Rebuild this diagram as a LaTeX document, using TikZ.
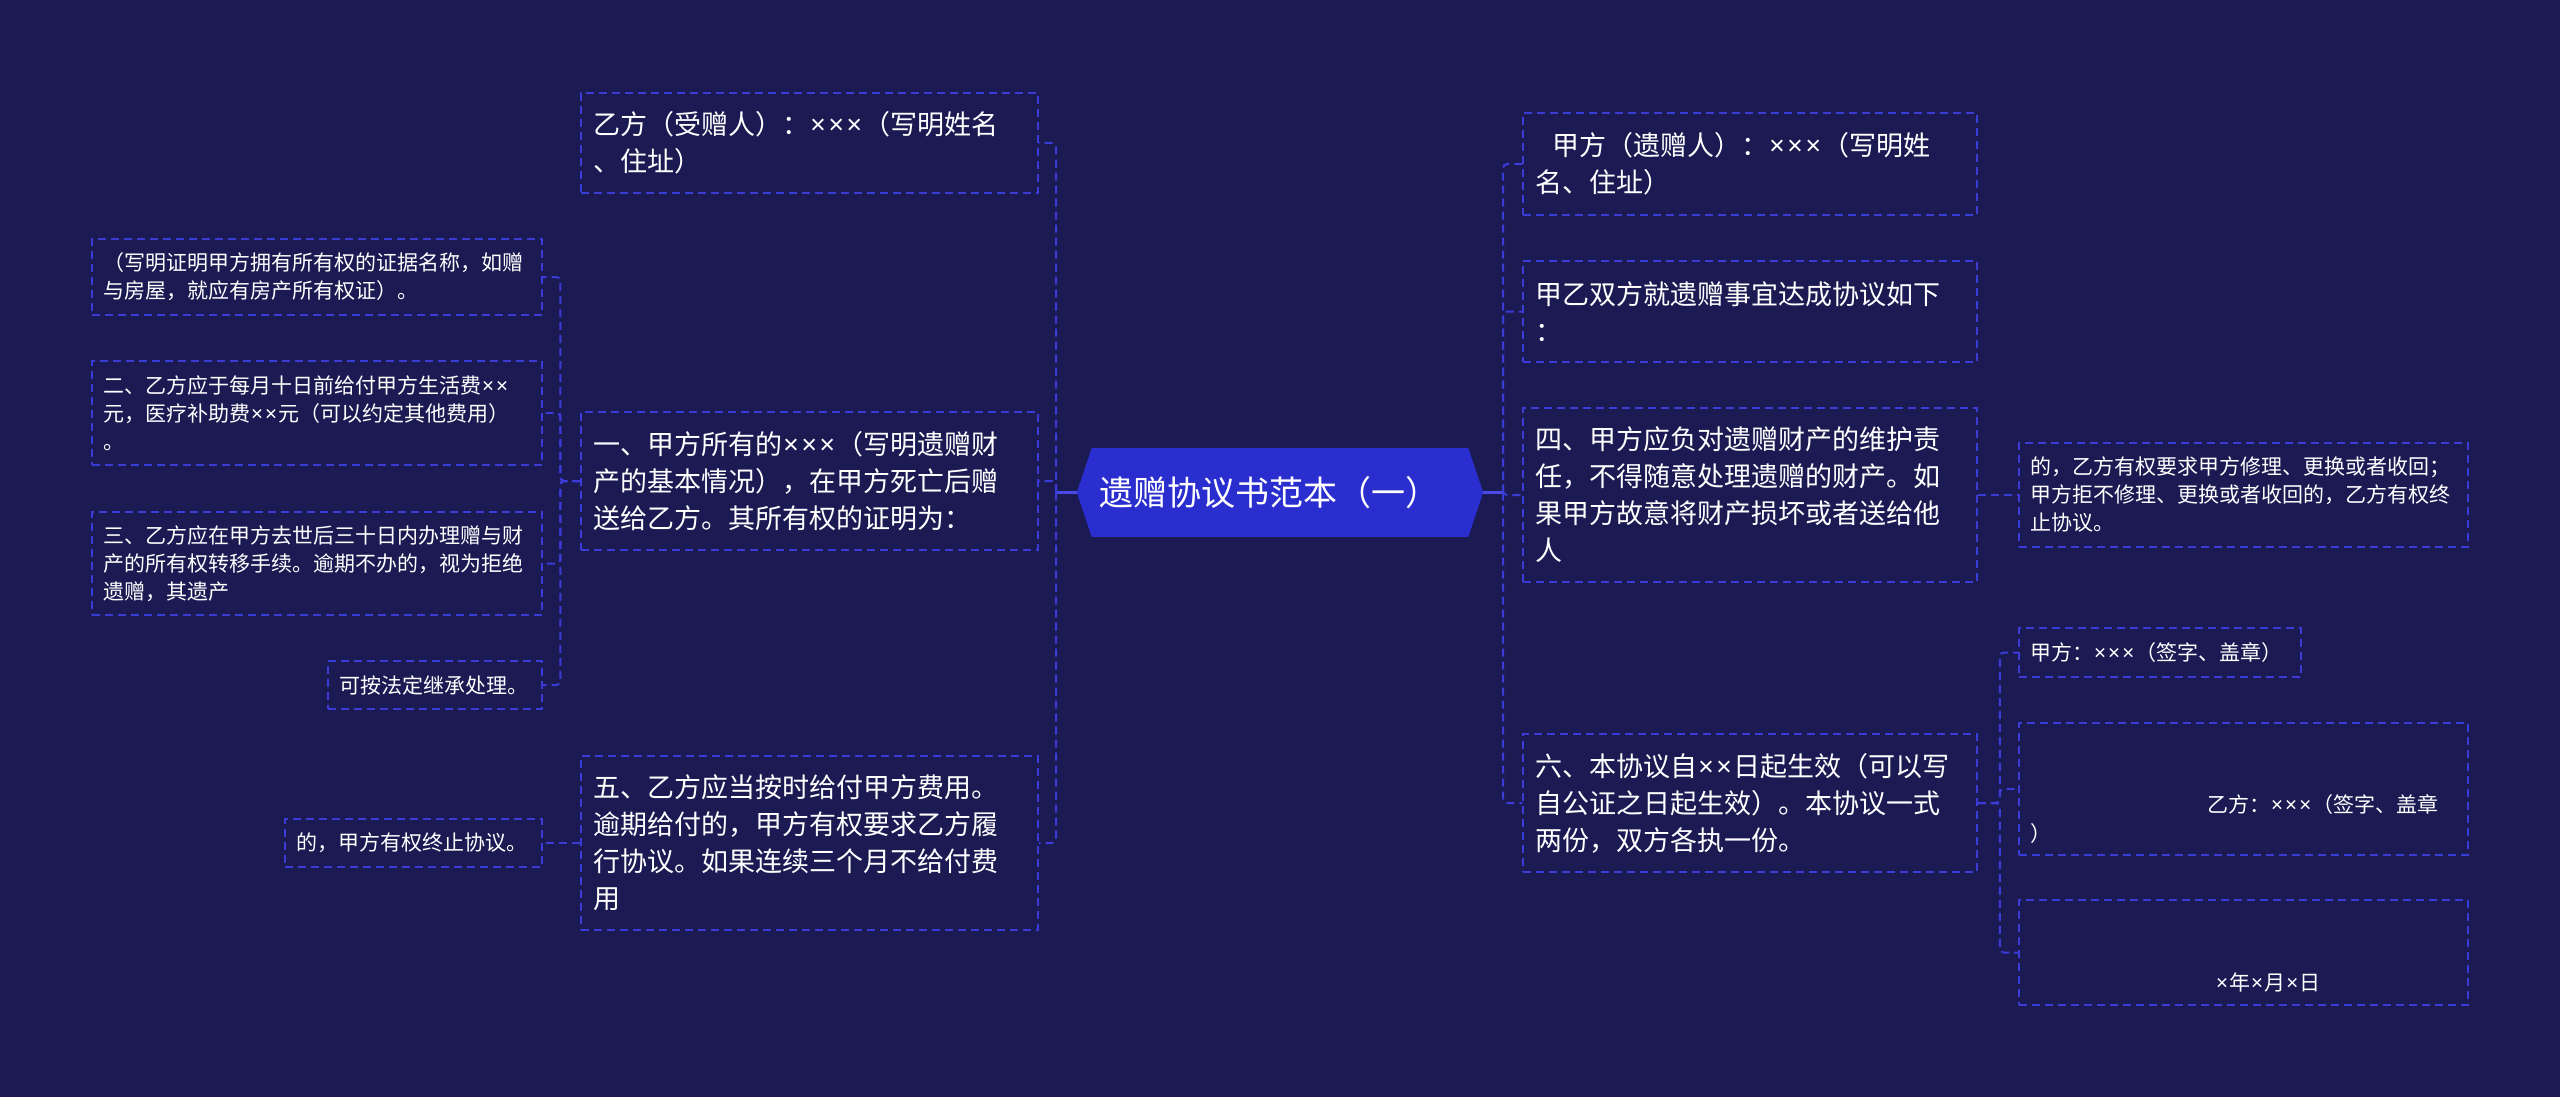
\documentclass[tikz,border=0pt]{standalone}
\usepackage{fontspec}
\setmainfont{Noto Sans CJK SC}
\newfontfamily\latinf{Noto Sans}
\newcommand{\xx}{{\latinf\hspace{0.05em}×\hspace{0.05em}}}
\usetikzlibrary{calc}
\definecolor{bg}{HTML}{1B1A53}
\definecolor{dashc}{HTML}{3B3BD8}
\definecolor{rootc}{HTML}{2B2ECF}
\definecolor{linkc}{HTML}{4A4AE6}
\tikzset{
  boxbase/.style={draw=dashc, line width=1.5pt, dash pattern=on 8pt off 5pt,
    text=white, align=left, inner xsep=12pt, inner ysep=0pt, anchor=center},
  lvone/.style={boxbase, font=\fontsize{27}{37}\selectfont},
  lvtwo/.style={boxbase, font=\fontsize{21}{28}\selectfont, inner xsep=11pt},
  rootbox/.style={fill=rootc, text=white, minimum width=376pt, minimum height=89pt,
    inner sep=0pt, font=\fontsize{34}{40}\selectfont},
  conn/.style={draw=dashc, line width=2pt, dash pattern=on 8pt off 5pt, rounded corners=4pt},
  rootlink/.style={draw=linkc, line width=2.5pt}
}
\begin{document}
\begin{tikzpicture}[x=1pt,y=-1pt]
\fill[bg] (0,0) rectangle (2560,1097);

% root
\node[rootbox] (root) at (1280,492.5) {\hspace*{-22pt}遗赠协议书范本（一）};
\fill[rootc] (root.north west) -- ([xshift=-15pt]root.west) -- (root.south west) -- cycle;
\fill[rootc] (root.north east) -- ([xshift=15pt]root.east) -- (root.south east) -- cycle;
\coordinate (rootL) at ([xshift=-15pt]root.west);
\coordinate (rootR) at ([xshift=15pt]root.east);

% left level one
\node[lvone, text width=433pt, minimum height=100pt] (L1a) at (809.5,143)
  {乙方（受赠人）：\xx{}\xx{}\xx{}（写明姓名\\、住址）};
\node[lvone, text width=433pt, minimum height=138pt] (L1b) at (809.5,481)
  {一、甲方所有的\xx{}\xx{}\xx{}（写明遗赠财\\产的基本情况），在甲方死亡后赠\\送给乙方。其所有权的证明为：};
\node[lvone, text width=433pt, minimum height=174pt] (L1c) at (809.5,843)
  {五、乙方应当按时给付甲方费用。\\逾期给付的，甲方有权要求乙方履\\行协议。如果连续三个月不给付费\\用};

% left level two
\node[lvtwo, text width=428pt, minimum height=76pt] (L2a) at (317,277)
  {（写明证明甲方拥有所有权的证据名称，如赠\\与房屋，就应有房产所有权证）。};
\node[lvtwo, text width=428pt, minimum height=104pt] (L2b) at (317,413)
  {二、乙方应于每月十日前给付甲方生活费\xx{}\xx{}\\元，医疗补助费\xx{}\xx{}元（可以约定其他费用）\\。};
\node[lvtwo, text width=428pt, minimum height=103pt] (L2c) at (317,563.5)
  {三、乙方应在甲方去世后三十日内办理赠与财\\产的所有权转移手续。逾期不办的，视为拒绝\\遗赠，其遗产};
\node[lvtwo, text width=192pt, minimum height=48pt] (L2d) at (435,685)
  {可按法定继承处理。};
\node[lvtwo, text width=235pt, minimum height=48pt] (L2e) at (413.5,843)
  {的，甲方有权终止协议。};

% right level one
\node[lvone, text width=430pt, minimum height=102pt] (R1a) at (1750,164)
  {\hspace*{17pt}甲方（遗赠人）：\xx{}\xx{}\xx{}（写明姓\\名、住址）};
\node[lvone, text width=430pt, minimum height=101pt] (R1b) at (1750,311.5)
  {甲乙双方就遗赠事宜达成协议如下\\：};
\node[lvone, text width=430pt, minimum height=174pt] (R1c) at (1750,495)
  {四、甲方应负对遗赠财产的维护责\\任，不得随意处理遗赠的财产。如\\果甲方故意将财产损坏或者送给他\\人};
\node[lvone, text width=430pt, minimum height=138pt] (R1d) at (1750,803)
  {六、本协议自\xx{}\xx{}日起生效（可以写\\自公证之日起生效）。本协议一式\\两份，双方各执一份。};

% right level two
\node[lvtwo, text width=427pt, minimum height=104pt] (R2a) at (2243.5,495)
  {的，乙方有权要求甲方修理、更换或者收回；\\甲方拒不修理、更换或者收回的，乙方有权终\\止协议。};
\node[lvtwo, text width=260pt, minimum height=49pt] (R2b) at (2160,652.5)
  {甲方：\xx{}\xx{}\xx{}（签字、盖章）};
\node[lvtwo, text width=427pt, minimum height=132pt, font=\fontsize{21}{29}\selectfont] (R2c) at (2243.5,789)
  {\strut\\\strut\\\hspace*{177pt}乙方：\xx{}\xx{}\xx{}（签字、盖章\\）};
\node[lvtwo, text width=427pt, minimum height=105pt, font=\fontsize{21}{29}\selectfont] (R2d) at (2243.5,952.5)
  {\strut\\\strut\\\hspace*{185pt}\xx{}年\xx{}月\xx{}日};

% connectors from root
\coordinate (tL) at (1056,492.5);
\coordinate (tR) at (1503,492.5);
\draw[rootlink] (rootL) -- (tL);
\draw[rootlink] (rootR) -- (tR);
\draw[conn] (tL) |- (L1a.east);
\draw[conn] (tL) |- (L1b.east);
\draw[conn] (tL) |- (L1c.east);
\draw[conn] (tR) |- (R1a.west);
\draw[conn] (tR) |- (R1b.west);
\draw[conn] (tR) |- (R1c.west);
\draw[conn] (tR) |- (R1d.west);

% left sub connectors
\draw[conn] (L1b.west) -- ++(-20,0) |- (L2a.east);
\draw[conn] (L1b.west) -- ++(-20,0) |- (L2b.east);
\draw[conn] (L1b.west) -- ++(-20,0) |- (L2c.east);
\draw[conn] (L1b.west) -- ++(-20,0) |- (L2d.east);
\draw[conn] (L1c.west) -- (L2e.east);

% right sub connectors
\draw[conn] (R1c.east) -- (R2a.west);
\draw[conn] (R1d.east) -- ++(22,0) |- (R2b.west);
\draw[conn] (R1d.east) -- ++(22,0) |- (R2c.west);
\draw[conn] (R1d.east) -- ++(22,0) |- (R2d.west);
\end{tikzpicture}
\end{document}
